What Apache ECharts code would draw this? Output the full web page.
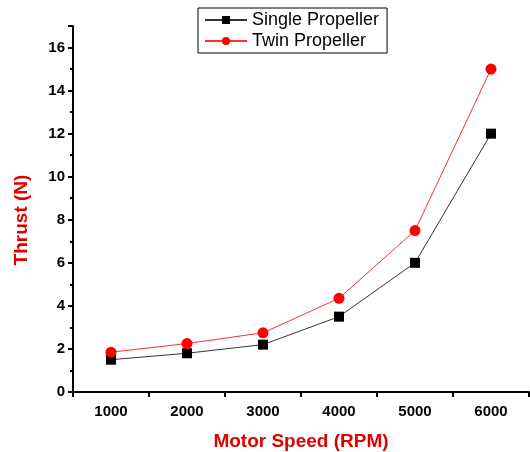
<!DOCTYPE html>
<html>
<head>
<meta charset="utf-8">
<script src="https://cdn.jsdelivr.net/npm/echarts@6/dist/echarts.min.js"></script>
<style>
  html, body { margin: 0; padding: 0; background: #fff; }
  #chart { width: 530px; height: 452px; }
</style>
</head>
<body>
<div id="chart"></div>
<script>
var speeds = ["1000", "2000", "3000", "4000", "5000", "6000"];
var singleThrust = [1.5, 1.8, 2.2, 3.5, 6.0, 12.0];
var twinThrust = [1.85, 2.25, 2.75, 4.35, 7.5, 15.0];

var chart = echarts.init(document.getElementById("chart"));
var boldText = { fontFamily: "Liberation Sans", fontWeight: "bold", color: "#000" };

chart.setOption({
    animation: false,
    grid: { left: 73, right: 1, top: 26, bottom: 60, containLabel: false, outerBoundsMode: "none" },
    legend: {
        orient: "vertical",
        left: 198,
        top: 8,
        padding: [3, 8, 3, 6],
        itemGap: 3,
        itemWidth: 42,
        itemHeight: 10,
        borderColor: "#000",
        borderWidth: 1,
        borderRadius: 0,
        textStyle: { fontFamily: "Liberation Sans", fontSize: 18, color: "#000" },
        data: ["Single Propeller", "Twin Propeller"]
    },
    xAxis: {
        type: "category",
        data: speeds,
        boundaryGap: true,
        name: "Motor Speed (RPM)",
        nameLocation: "middle",
        nameGap: 40,
        nameTextStyle: { fontFamily: "Liberation Sans", fontWeight: "bold", fontSize: 19, color: "#e00000" },
        axisLine: { lineStyle: { color: "#000", width: 2 } },
        axisTick: { show: true, length: 5, lineStyle: { color: "#000", width: 2 } },
        axisLabel: Object.assign({ fontSize: 15, margin: 12 }, boldText),
        splitLine: { show: false }
    },
    yAxis: {
        type: "value",
        min: 0,
        max: 17,
        interval: 2,
        name: "Thrust (N)",
        nameLocation: "middle",
        nameGap: 42,
        nameTextStyle: { fontFamily: "Liberation Sans", fontWeight: "bold", fontSize: 19, color: "#e00000",
            padding: [0, 22, 0, 0] },
        axisLine: { show: true, lineStyle: { color: "#000", width: 2 } },
        axisTick: { show: true, length: 5, lineStyle: { color: "#000", width: 2 } },
        minorTick: { show: true, splitNumber: 2, length: 3, lineStyle: { color: "#000", width: 2 } },
        axisLabel: Object.assign({ fontSize: 15, margin: 8,
            formatter: function (v) { return v > 16 ? "" : v; } }, boldText),
        splitLine: { show: false }
    },
    series: [
        {
            name: "Single Propeller",
            type: "line",
            data: singleThrust,
            symbol: "rect",
            symbolSize: 10,
            itemStyle: { color: "#000" },
            lineStyle: { color: "#333", width: 1 }
        },
        {
            name: "Twin Propeller",
            type: "line",
            data: twinThrust,
            symbol: "circle",
            symbolSize: 11,
            itemStyle: { color: "#ff0000" },
            lineStyle: { color: "#ff3030", width: 1 }
        }
    ]
});
</script>
</body>
</html>
